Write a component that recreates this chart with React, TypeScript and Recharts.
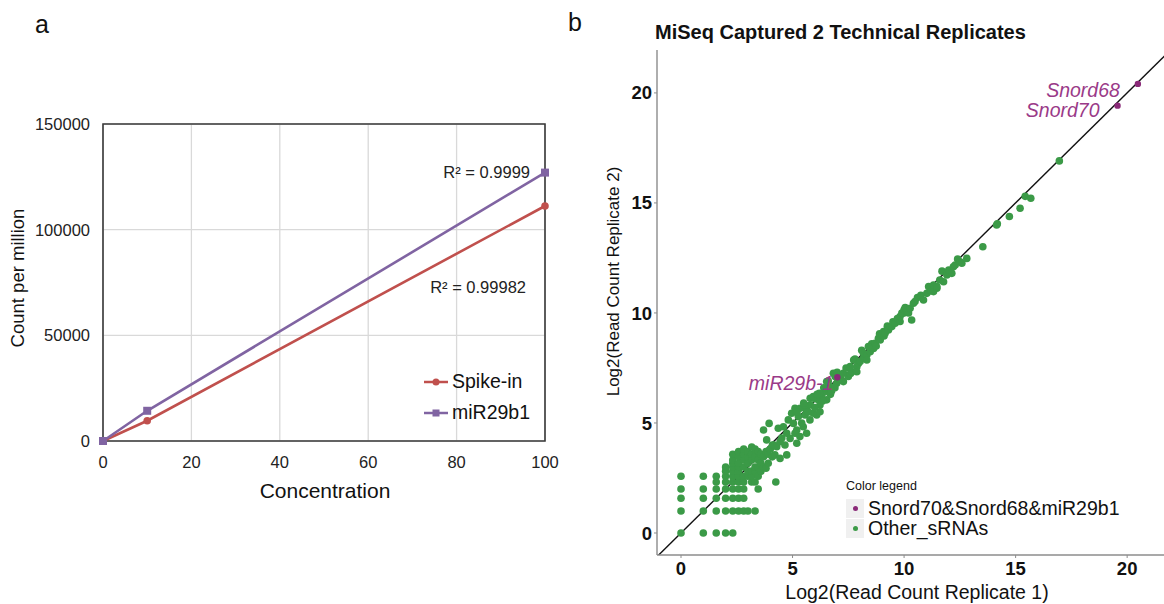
import React from 'react';
import {
  LineChart,
  Line,
  XAxis,
  YAxis,
  CartesianGrid,
  ReferenceArea,
  ReferenceDot,
  ReferenceLine,
  Legend,
  Label,
  ScatterChart,
  Scatter,
} from 'recharts';

const FONT = '"Liberation Sans", Arial, Helvetica, sans-serif';

// ---- panel a: spike-in calibration ----
const concentrations = [0, 10, 100];
const spikeInCpm = [0, 9600, 111200];
const mir29b1Cpm = [0, 14300, 127000];
const spikeInR2 = 'R² = 0.99982';
const mir29b1R2 = 'R² = 0.9999';
const concTicks = [0, 20, 40, 60, 80, 100];
const cpmTicks = [0, 50000, 100000, 150000];

// ---- panel b: technical replicates (log2 read counts) ----
const log2Ticks = [0, 5, 10, 15, 20];
const highlighted = [
  { name: 'Snord68', x: 20.48, y: 20.41 },
  { name: 'Snord70', x: 19.57, y: 19.42 },
  { name: 'miR29b-1', x: 7.01, y: 7.08 },
];
const otherSrnas: [number, number][] = [
  // low counts sit on the log2 integer grid
  [0, 0], [1, 0], [1.58, 0], [2, 0], [2.32, 0],
  [0, 1], [1, 1], [1.58, 1], [2, 1], [2.32, 1], [2.58, 1], [2.81, 1], [3, 1], [3.32, 1],
  [0, 1.58], [1, 1.58], [1.58, 1.58], [2, 1.58], [2.32, 1.58], [2.58, 1.58], [2.81, 1.58],
  [0, 2], [1, 2], [1.58, 2], [2, 2], [2.32, 2], [2.58, 2], [2.81, 2], [3.46, 2],
  [0, 2.58], [1, 2.58], [1.58, 2.58], [2, 2.58], [2.32, 2.58],
  [1.58, 2.32], [2, 2.32], [2.32, 2.32], [2.58, 2.32], [3.17, 2.32], [3.32, 2.32], [4.25, 2.32],
  [2, 2.81], [2, 3], [2.32, 2.81], [2.32, 3], [2.32, 3.17], [2.32, 3.32], [2.32, 3.58],
  [2.58, 2.58], [2.58, 2.81], [2.58, 3], [2.58, 3.17], [2.58, 3.46], [2.58, 3.7],
  [2.81, 2.32], [2.81, 2.58], [2.81, 3], [2.81, 3.32], [2.81, 3.58], [2.81, 3.81],
  [3, 2.58], [3, 2.81], [3, 3.17], [3, 3.46], [3, 3.7],
  [3.17, 2.58], [3.17, 2.81], [3.17, 3.32], [3.17, 3.58], [3.17, 3.91],
  [3.32, 2.81], [3.32, 3], [3.32, 3.46], [3.32, 3.81],
  [3.46, 2.58], [3.46, 3], [3.46, 3.32], [3.46, 3.7],
  [3.58, 2.81], [3.58, 3.17], [3.58, 3.58],
  [3.7, 3], [3.7, 3.46], [3.7, 4.68], [3.81, 2.94], [3.81, 3.7], [3.84, 4.23],
  [3.91, 3.17], [3.91, 3.58], [3.95, 4.98], [4, 3.81], [4.09, 3.46], [4.1, 4],
  [4.17, 4], [4.21, 3.55], [4.29, 3.92], [4.36, 4.76], [4.44, 3.39], [4.44, 4.15],
  [4.52, 4.32], [4.59, 4.83], [4.66, 4], [4.74, 3.55], [4.74, 4.53], [4.81, 5.14],
  [4.89, 4.3], [4.96, 5.44], [5.04, 4.98], [5.11, 5.67], [5.19, 4.68], [5.26, 5.29],
  [5.11, 4.53], [5.19, 4.08], [5.33, 4.38], [5.48, 4.83], [5.63, 4.53], [5.41, 5],
  [5.56, 5.36], [5.78, 5.14], [5.93, 5.44], [6.08, 5.36], [6.23, 5.51], [5.63, 5.6],
  [5.8, 5.82], [6, 6.1], [6.23, 5.82], [6.53, 6.05], [5.34, 5.67], [5.56, 5.82],
  [5.79, 6.12], [5.93, 6.2], [6.16, 6.05], [6.31, 6.27], [6.46, 6.42], [6.53, 6.58],
  [6.68, 6.65], [6.4, 6.6], [6.98, 6.8], [6.83, 7.26], [6.91, 7.11], [6.53, 6.88],
  [6.2, 6.35], [6.7, 6.3], [6.9, 6.6], [5.2, 5.5], [5.5, 5.9], [5.7, 5.5], [6, 5.7],
  [6.1, 6.3], [6.35, 6], [6.6, 6.9], [6.75, 6.45],
  [7, 7.3], [7.2, 6.95], [7.13, 7.18], [7.28, 7.26], [7.5, 7.11], [7.28, 6.88],
  [7.4, 7.5], [7.6, 7.25], [7.65, 7.33], [7.88, 7.56], [7.74, 7.86], [7.58, 7.56],
  [7.8, 7.9], [7.95, 7.7], [8.03, 7.79], [7.88, 7.33], [8.1, 8.3], [8.25, 8],
  [8.18, 7.94], [8.18, 8.17], [8.33, 8.09], [8.33, 7.86], [8.48, 8.24], [8.48, 8.47],
  [8.55, 8.6], [8.63, 8.39], [8.4, 8.47], [8.7, 8.62], [8.75, 8.5], [8.85, 8.85],
  [8.9, 9.05], [8.93, 8.77], [9, 9], [9.08, 9.15], [9.1, 8.95], [9.15, 9.08],
  [9.25, 9.4], [9.3, 9.23], [9.38, 9.38], [9.45, 9.38], [9.5, 9.6], [9.6, 9.53],
  [9.7, 9.75], [9.82, 9.61], [9.82, 9.84], [9.9, 10], [9.97, 9.99], [10, 10.14],
  [10.05, 10.25], [10.12, 10.06], [10.2, 10], [10.27, 10.21], [10.34, 9.68],
  [10.42, 10.44], [10.49, 10.52], [10.6, 10.7], [10.75, 10.8], [10.87, 10.59],
  [11.02, 10.89], [11.1, 11.2], [11.2, 11], [11.32, 10.97], [11.32, 11.27],
  [11.47, 11.12], [11.47, 11.2], [11.6, 11.5], [11.7, 11.9], [11.77, 11.42],
  [11.92, 11.73], [12, 11.95], [12.14, 11.8], [12.21, 12.1], [12.29, 12.18],
  [12.4, 12.45], [12.51, 12.33], [12.59, 12.26], [12.81, 12.48],
  [13.53, 13.01], [14.15, 14], [14.18, 14.05], [14.72, 14.38], [15.2, 14.76],
  [15.43, 15.3], [15.68, 15.21], [16.96, 16.91],
];

const RED = '#c0504d';
const PURPLE = '#8064a2';
const GREEN = '#3b9a47';
const MAGENTA = '#8a2a78';
const AXIS_GRAY = '#8c8c8c';

// offset of each gene label from its point (text is right-anchored)
const labelNudge: Record<string, [number, number]> = {
  Snord68: [-18, 13],
  Snord70: [-18, 11],
  'miR29b-1': [-4, 13],
};

const calibrationRows = concentrations.map((c, i) => ({
  conc: c,
  spikeIn: spikeInCpm[i],
  mir29b1: mir29b1Cpm[i],
}));

const replicateRows = otherSrnas.map(([x, y]) => ({ x, y }));

const seriesA = [
  { key: 'spikeIn', name: 'Spike-in', color: RED, square: false },
  { key: 'mir29b1', name: 'miR29b1', color: PURPLE, square: true },
];

const SquareDot = (props: any) => {
  const { cx, cy, index } = props;
  if (cx == null || cy == null) return null;
  return <rect key={`sq-${index}`} x={cx - 4} y={cy - 4} width={8} height={8} fill={PURPLE} />;
};

const RoundDot = (props: any) => {
  const { cx, cy, index } = props;
  if (cx == null || cy == null) return null;
  return <circle key={`rd-${index}`} cx={cx} cy={cy} r={3.8} fill={RED} />;
};

const CalibrationLegend = () => (
  <div style={{ fontFamily: FONT, fontSize: 19.5, color: '#111' }}>
    {seriesA.map((s) => (
      <div key={s.key} style={{ display: 'flex', alignItems: 'center', height: 31 }}>
        <svg width={26} height={12} style={{ marginRight: 2 }}>
          <line x1={0} x2={24} y1={6} y2={6} stroke={s.color} strokeWidth={2.5} />
          {s.square ? (
            <rect x={8.5} y={2.5} width={7} height={7} fill={s.color} />
          ) : (
            <circle cx={12} cy={6} r={3.5} fill={s.color} />
          )}
        </svg>
        <span>{s.name}</span>
      </div>
    ))}
  </div>
);

const ReplicateLegend = () => (
  <div style={{ fontFamily: FONT, color: '#111' }}>
    <div style={{ fontSize: 12.5, height: 15, lineHeight: '15px', marginBottom: 4 }}>Color legend</div>
    {[
      { name: 'Snord70&Snord68&miR29b1', color: MAGENTA },
      { name: 'Other_sRNAs', color: GREEN },
    ].map((s) => (
      <div key={s.name} style={{ display: 'flex', alignItems: 'center', height: 20 }}>
        <div
          style={{
            width: 18,
            height: 19,
            background: '#f0f0f0',
            display: 'flex',
            alignItems: 'center',
            justifyContent: 'center',
            marginRight: 4,
          }}
        >
          <div style={{ width: 5, height: 5, borderRadius: 3, background: s.color }} />
        </div>
        <span style={{ fontSize: 19.5, lineHeight: '20px' }}>{s.name}</span>
      </div>
    ))}
  </div>
);

const GreenDot = (props: any) => {
  const { cx, cy } = props;
  return <circle cx={cx} cy={cy} r={3.8} fill={GREEN} />;
};

const GeneDot = (props: any) => {
  const { cx, cy, payload } = props;
  const [dx, dy] = labelNudge[payload.name] || [0, 0];
  return (
    <g>
      <circle cx={cx} cy={cy} r={3.2} fill={MAGENTA} />
      <text
        x={cx + dx}
        y={cy + dy}
        textAnchor="end"
        fontStyle="italic"
        fontSize={19.5}
        fontFamily={FONT}
        fill="#9a3a88"
      >
        {payload.name}
      </text>
    </g>
  );
};

function CalibrationChart() {
  const tickStyle = { fontSize: 16.5, fill: '#222', fontFamily: FONT };
  return (
    <LineChart
      width={560}
      height={520}
      data={calibrationRows}
      margin={{ top: 124, right: 15, left: 0, bottom: 0 }}
    >
      <CartesianGrid stroke="#d9d9d9" strokeWidth={1.3} />
      <XAxis
        dataKey="conc"
        type="number"
        domain={[0, 100]}
        ticks={concTicks}
        tick={tickStyle}
        tickLine={false}
        axisLine={false}
        tickMargin={9}
        height={79}
      >
        <Label
          content={() => (
            <text x={325} y={498} textAnchor="middle" fontSize={21} fontFamily={FONT} fill="#111">
              Concentration
            </text>
          )}
        />
      </XAxis>
      <YAxis
        type="number"
        domain={[0, 150000]}
        ticks={cpmTicks}
        tick={tickStyle}
        tickLine={false}
        axisLine={false}
        tickMargin={7}
        width={103}
      >
        <Label
          content={() => (
            <text
              transform="translate(18,278) rotate(-90)"
              textAnchor="middle"
              dy="0.35em"
              fontSize={18.5}
              fontFamily={FONT}
              fill="#111"
            >
              Count per million
            </text>
          )}
        />
      </YAxis>
      <ReferenceArea x1={0} x2={100} y1={0} y2={150000} fill="none" stroke="#3a3a3a" strokeWidth={1.6} />
      <Line
        dataKey="spikeIn"
        name="Spike-in"
        type="linear"
        stroke={RED}
        strokeWidth={2.6}
        dot={RoundDot}
        activeDot={false}
        isAnimationActive={false}
      />
      <Line
        dataKey="mir29b1"
        name="miR29b1"
        type="linear"
        stroke={PURPLE}
        strokeWidth={2.6}
        dot={SquareDot}
        activeDot={false}
        isAnimationActive={false}
      />
      <ReferenceDot
        x={100}
        y={mir29b1Cpm[2]}
        r={0}
        fill="none"
        stroke="none"
        label={{ value: mir29b1R2, position: 'left', offset: 15, fontSize: 16.5, fill: '#222', fontFamily: FONT }}
      />
      <ReferenceDot
        x={100}
        y={spikeInCpm[2]}
        r={0}
        fill="none"
        stroke="none"
        label={(p: any) => {
          const vb = p.viewBox || {};
          const cx = (vb.x ?? 0) + (vb.width ?? 0) / 2;
          const cy = (vb.y ?? 0) + (vb.height ?? 0) / 2;
          return (
            <text x={cx - 19} y={cy + 87} textAnchor="end" fontSize={16.5} fontFamily={FONT} fill="#222">
              {spikeInR2}
            </text>
          );
        }}
      />
      <Legend
        content={CalibrationLegend}
        layout="vertical"
        align="center"
        verticalAlign="middle"
        wrapperStyle={{ left: 424, top: 366, width: 140 }}
      />
    </LineChart>
  );
}

function ReplicateChart() {
  const tickStyle = { fontSize: 18.5, fontWeight: 700, fill: '#111', fontFamily: FONT };
  const xDomain = [-1.076, 22.1];
  const yDomain = [-1, 21.95];
  return (
    <ScatterChart width={600} height={564} margin={{ top: 10, right: 6, left: 0, bottom: 0 }}>
      <XAxis
        dataKey="x"
        type="number"
        domain={xDomain}
        allowDataOverflow
        ticks={log2Ticks}
        tick={tickStyle}
        tickSize={3}
        tickMargin={4}
        tickLine={{ stroke: AXIS_GRAY }}
        axisLine={{ stroke: AXIS_GRAY, strokeWidth: 1.4 }}
        height={49}
      >
        <Label
          content={() => (
            <text x={337} y={559} textAnchor="middle" fontSize={19.5} fontFamily={FONT} fill="#111">
              Log2(Read Count Replicate 1)
            </text>
          )}
        />
      </XAxis>
      <XAxis
        xAxisId="top"
        orientation="top"
        type="number"
        domain={xDomain}
        allowDataOverflow
        tick={false}
        tickLine={false}
        axisLine={{ stroke: AXIS_GRAY, strokeWidth: 1.4 }}
        height={0}
      />
      <YAxis
        dataKey="y"
        type="number"
        domain={yDomain}
        allowDataOverflow
        ticks={log2Ticks}
        tick={tickStyle}
        tickSize={3}
        tickMargin={2}
        tickLine={{ stroke: AXIS_GRAY }}
        axisLine={{ stroke: AXIS_GRAY, strokeWidth: 1.4 }}
        width={77}
      >
        <Label
          content={() => (
            <text
              transform="translate(33,241.5) rotate(-90)"
              textAnchor="middle"
              dy="0.35em"
              fontSize={17}
              fontFamily={FONT}
              fill="#111"
            >
              Log2(Read Count Replicate 2)
            </text>
          )}
        />
      </YAxis>
      <Scatter
        name="Other_sRNAs"
        data={replicateRows}
        shape={GreenDot}
        isAnimationActive={false}
      />
      <ReferenceLine
        segment={[{ x: -2, y: -2 }, { x: 24, y: 24 }]}
        stroke="#111"
        strokeWidth={1.4}
        ifOverflow="hidden"
      />
      <Scatter
        name="Snord70&Snord68&miR29b1"
        data={highlighted}
        shape={GeneDot}
        isAnimationActive={false}
      />
      <Legend
        content={ReplicateLegend}
        layout="vertical"
        align="center"
        verticalAlign="middle"
        wrapperStyle={{ left: 266, top: 439, width: 320 }}
      />
    </ScatterChart>
  );
}

export default function App() {
  return (
    <div
      style={{
        position: 'absolute',
        left: 0,
        top: 0,
        width: 1164,
        height: 604,
        overflow: 'hidden',
        background: '#fff',
        fontFamily: FONT,
      }}
    >
      <div style={{ position: 'absolute', left: 35, top: 12, fontSize: 25, lineHeight: '25px', color: '#111' }}>a</div>
      <div style={{ position: 'absolute', left: 568, top: 10, fontSize: 25, lineHeight: '25px', color: '#111' }}>b</div>
      <div
        style={{
          position: 'absolute',
          left: 655,
          top: 21,
          fontSize: 20,
          lineHeight: '22px',
          fontWeight: 700,
          color: '#111',
          whiteSpace: 'nowrap',
        }}
      >
        MiSeq Captured 2 Technical Replicates
      </div>
      <div style={{ position: 'absolute', left: 0, top: 0 }}>
        <CalibrationChart />
      </div>
      <div style={{ position: 'absolute', left: 580, top: 40 }}>
        <ReplicateChart />
      </div>
    </div>
  );
}
